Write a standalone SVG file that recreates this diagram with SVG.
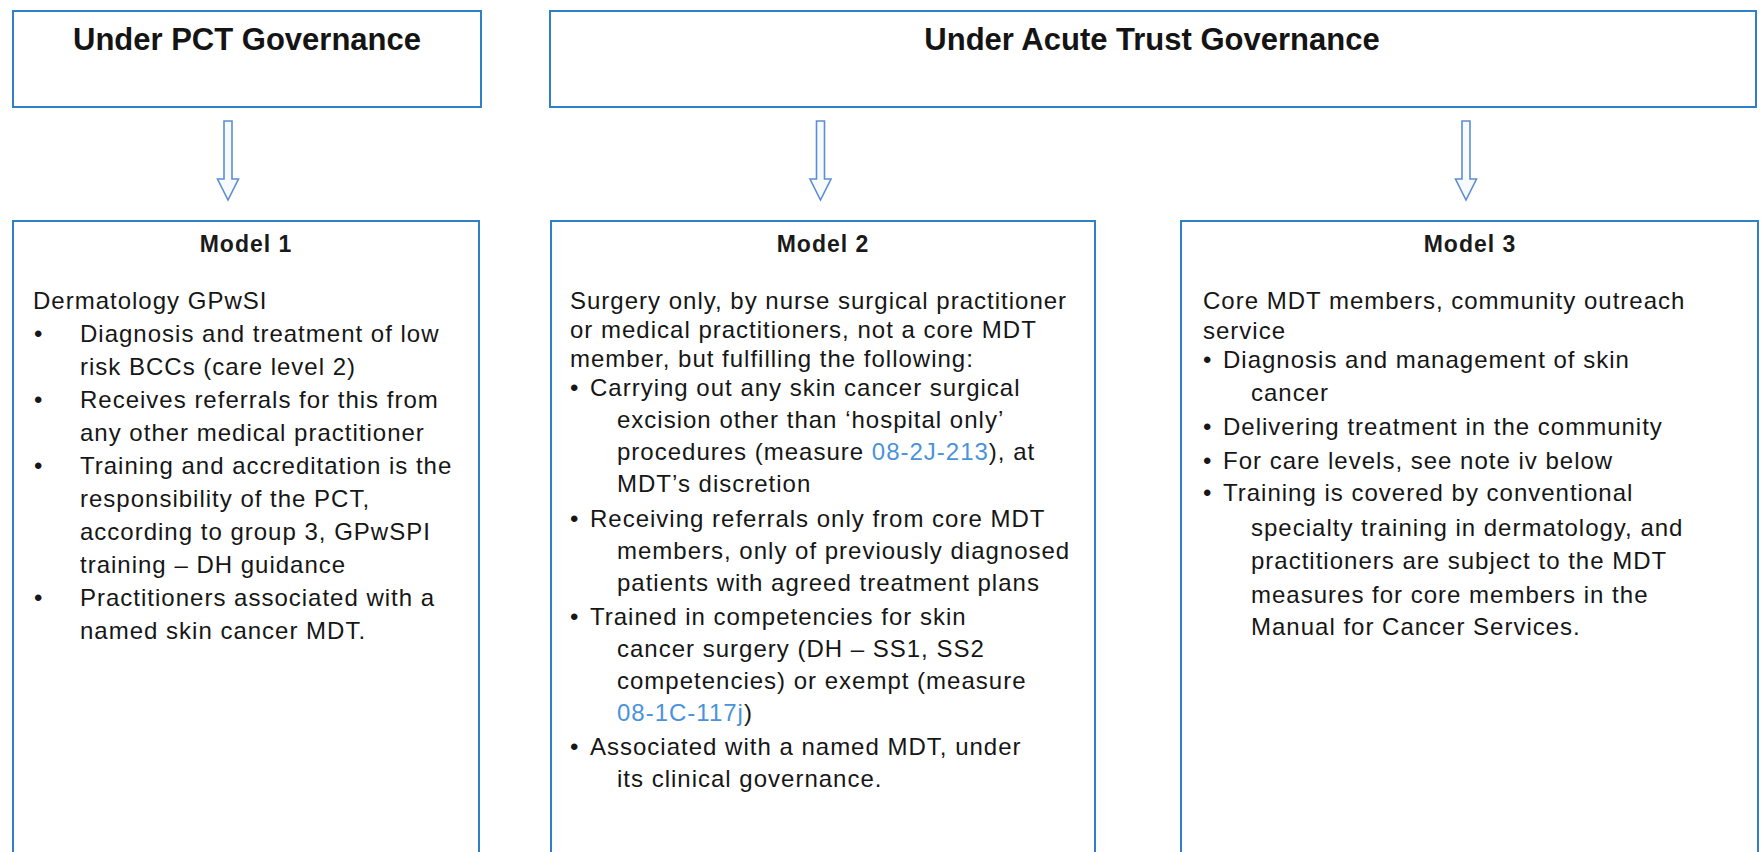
<svg xmlns="http://www.w3.org/2000/svg" width="1762" height="852" viewBox="0 0 1762 852">
<style>
.box{fill:#fff;stroke:#2f80c6;stroke-width:2}
.arr{fill:#f7fafe;stroke:#5b8fd2;stroke-width:1.6;stroke-linejoin:miter}
.t{font-family:"Liberation Sans",Arial,sans-serif;font-size:31px;font-weight:bold;fill:#141414}
.h{font-family:"Liberation Sans",Arial,sans-serif;font-size:23px;font-weight:bold;letter-spacing:1px;fill:#1a1a1a}
.b{font-family:"Liberation Sans",Arial,sans-serif;font-size:24px;letter-spacing:1px;fill:#161616}
.lnk{fill:#4a93da}
</style>
<rect width="1762" height="852" fill="#fff"/>
<g id="pct">
<rect class="box" x="13" y="11" width="468" height="96"/>
<text class="t" x="247" y="50" text-anchor="middle">Under PCT Governance</text>
</g>
<g id="acute">
<rect class="box" x="550" y="11" width="1206" height="96"/>
<text class="t" x="1152" y="50" text-anchor="middle">Under Acute Trust Governance</text>
</g>
<g id="connectors">
<path class="arr" d="M224,121 H232 V179 H238.5 L228,200 L217.5,179 H224 Z"/>
<path class="arr" d="M816.5,121 H824.5 V179 H831 L820.5,200 L810,179 H816.5 Z"/>
<path class="arr" d="M1462,121 H1470 V179 H1476.5 L1466,200 L1455.5,179 H1462 Z"/>
</g>
<g id="model1">
<rect class="box" x="13" y="221" width="466" height="680"/>
<text class="h" x="246" y="252" text-anchor="middle">Model 1</text>
<text class="b">
<tspan x="33" y="309">Dermatology GPwSI</tspan>
<tspan x="34" y="342">•</tspan><tspan x="80" y="342">Diagnosis and treatment of low</tspan>
<tspan x="80" y="375">risk BCCs (care level 2)</tspan>
<tspan x="34" y="408">•</tspan><tspan x="80" y="408">Receives referrals for this from</tspan>
<tspan x="80" y="441">any other medical practitioner</tspan>
<tspan x="34" y="474">•</tspan><tspan x="80" y="474">Training and accreditation is the</tspan>
<tspan x="80" y="507">responsibility of the PCT,</tspan>
<tspan x="80" y="540">according to group 3, GPwSPI</tspan>
<tspan x="80" y="573">training – DH guidance</tspan>
<tspan x="34" y="606">•</tspan><tspan x="80" y="606">Practitioners associated with a</tspan>
<tspan x="80" y="639">named skin cancer MDT.</tspan>
</text>
</g>
<g id="model2">
<rect class="box" x="551" y="221" width="544" height="680"/>
<text class="h" x="823" y="252" text-anchor="middle">Model 2</text>
<text class="b">
<tspan x="570" y="309">Surgery only, by nurse surgical practitioner</tspan>
<tspan x="570" y="338">or medical practitioners, not a core MDT</tspan>
<tspan x="570" y="367">member, but fulfilling the following:</tspan>
<tspan x="570" y="396">•</tspan><tspan x="590" y="396">Carrying out any skin cancer surgical</tspan>
<tspan x="617" y="428">excision other than ‘hospital only’</tspan>
<tspan x="617" y="460">procedures (measure <tspan class="lnk">08-2J-213</tspan>), at</tspan>
<tspan x="617" y="492">MDT’s discretion</tspan>
<tspan x="570" y="527">•</tspan><tspan x="590" y="527">Receiving referrals only from core MDT</tspan>
<tspan x="617" y="559">members, only of previously diagnosed</tspan>
<tspan x="617" y="591">patients with agreed treatment plans</tspan>
<tspan x="570" y="625">•</tspan><tspan x="590" y="625">Trained in competencies for skin</tspan>
<tspan x="617" y="657">cancer surgery (DH – SS1, SS2</tspan>
<tspan x="617" y="689">competencies) or exempt (measure</tspan>
<tspan x="617" y="721"><tspan class="lnk">08-1C-117j</tspan>)</tspan>
<tspan x="570" y="755">•</tspan><tspan x="590" y="755">Associated with a named MDT, under</tspan>
<tspan x="617" y="787">its clinical governance.</tspan>
</text>
</g>
<g id="model3">
<rect class="box" x="1181" y="221" width="577" height="680"/>
<text class="h" x="1470" y="252" text-anchor="middle">Model 3</text>
<text class="b">
<tspan x="1203" y="309">Core MDT members, community outreach</tspan>
<tspan x="1203" y="339">service</tspan>
<tspan x="1203" y="368">•</tspan><tspan x="1223" y="368">Diagnosis and management of skin</tspan>
<tspan x="1251" y="401">cancer</tspan>
<tspan x="1203" y="435">•</tspan><tspan x="1223" y="435">Delivering treatment in the community</tspan>
<tspan x="1203" y="469">•</tspan><tspan x="1223" y="469">For care levels, see note iv below</tspan>
<tspan x="1203" y="501">•</tspan><tspan x="1223" y="501">Training is covered by conventional</tspan>
<tspan x="1251" y="536">specialty training in dermatology, and</tspan>
<tspan x="1251" y="569">practitioners are subject to the MDT</tspan>
<tspan x="1251" y="603">measures for core members in the</tspan>
<tspan x="1251" y="635">Manual for Cancer Services.</tspan>
</text>
</g>
</svg>
